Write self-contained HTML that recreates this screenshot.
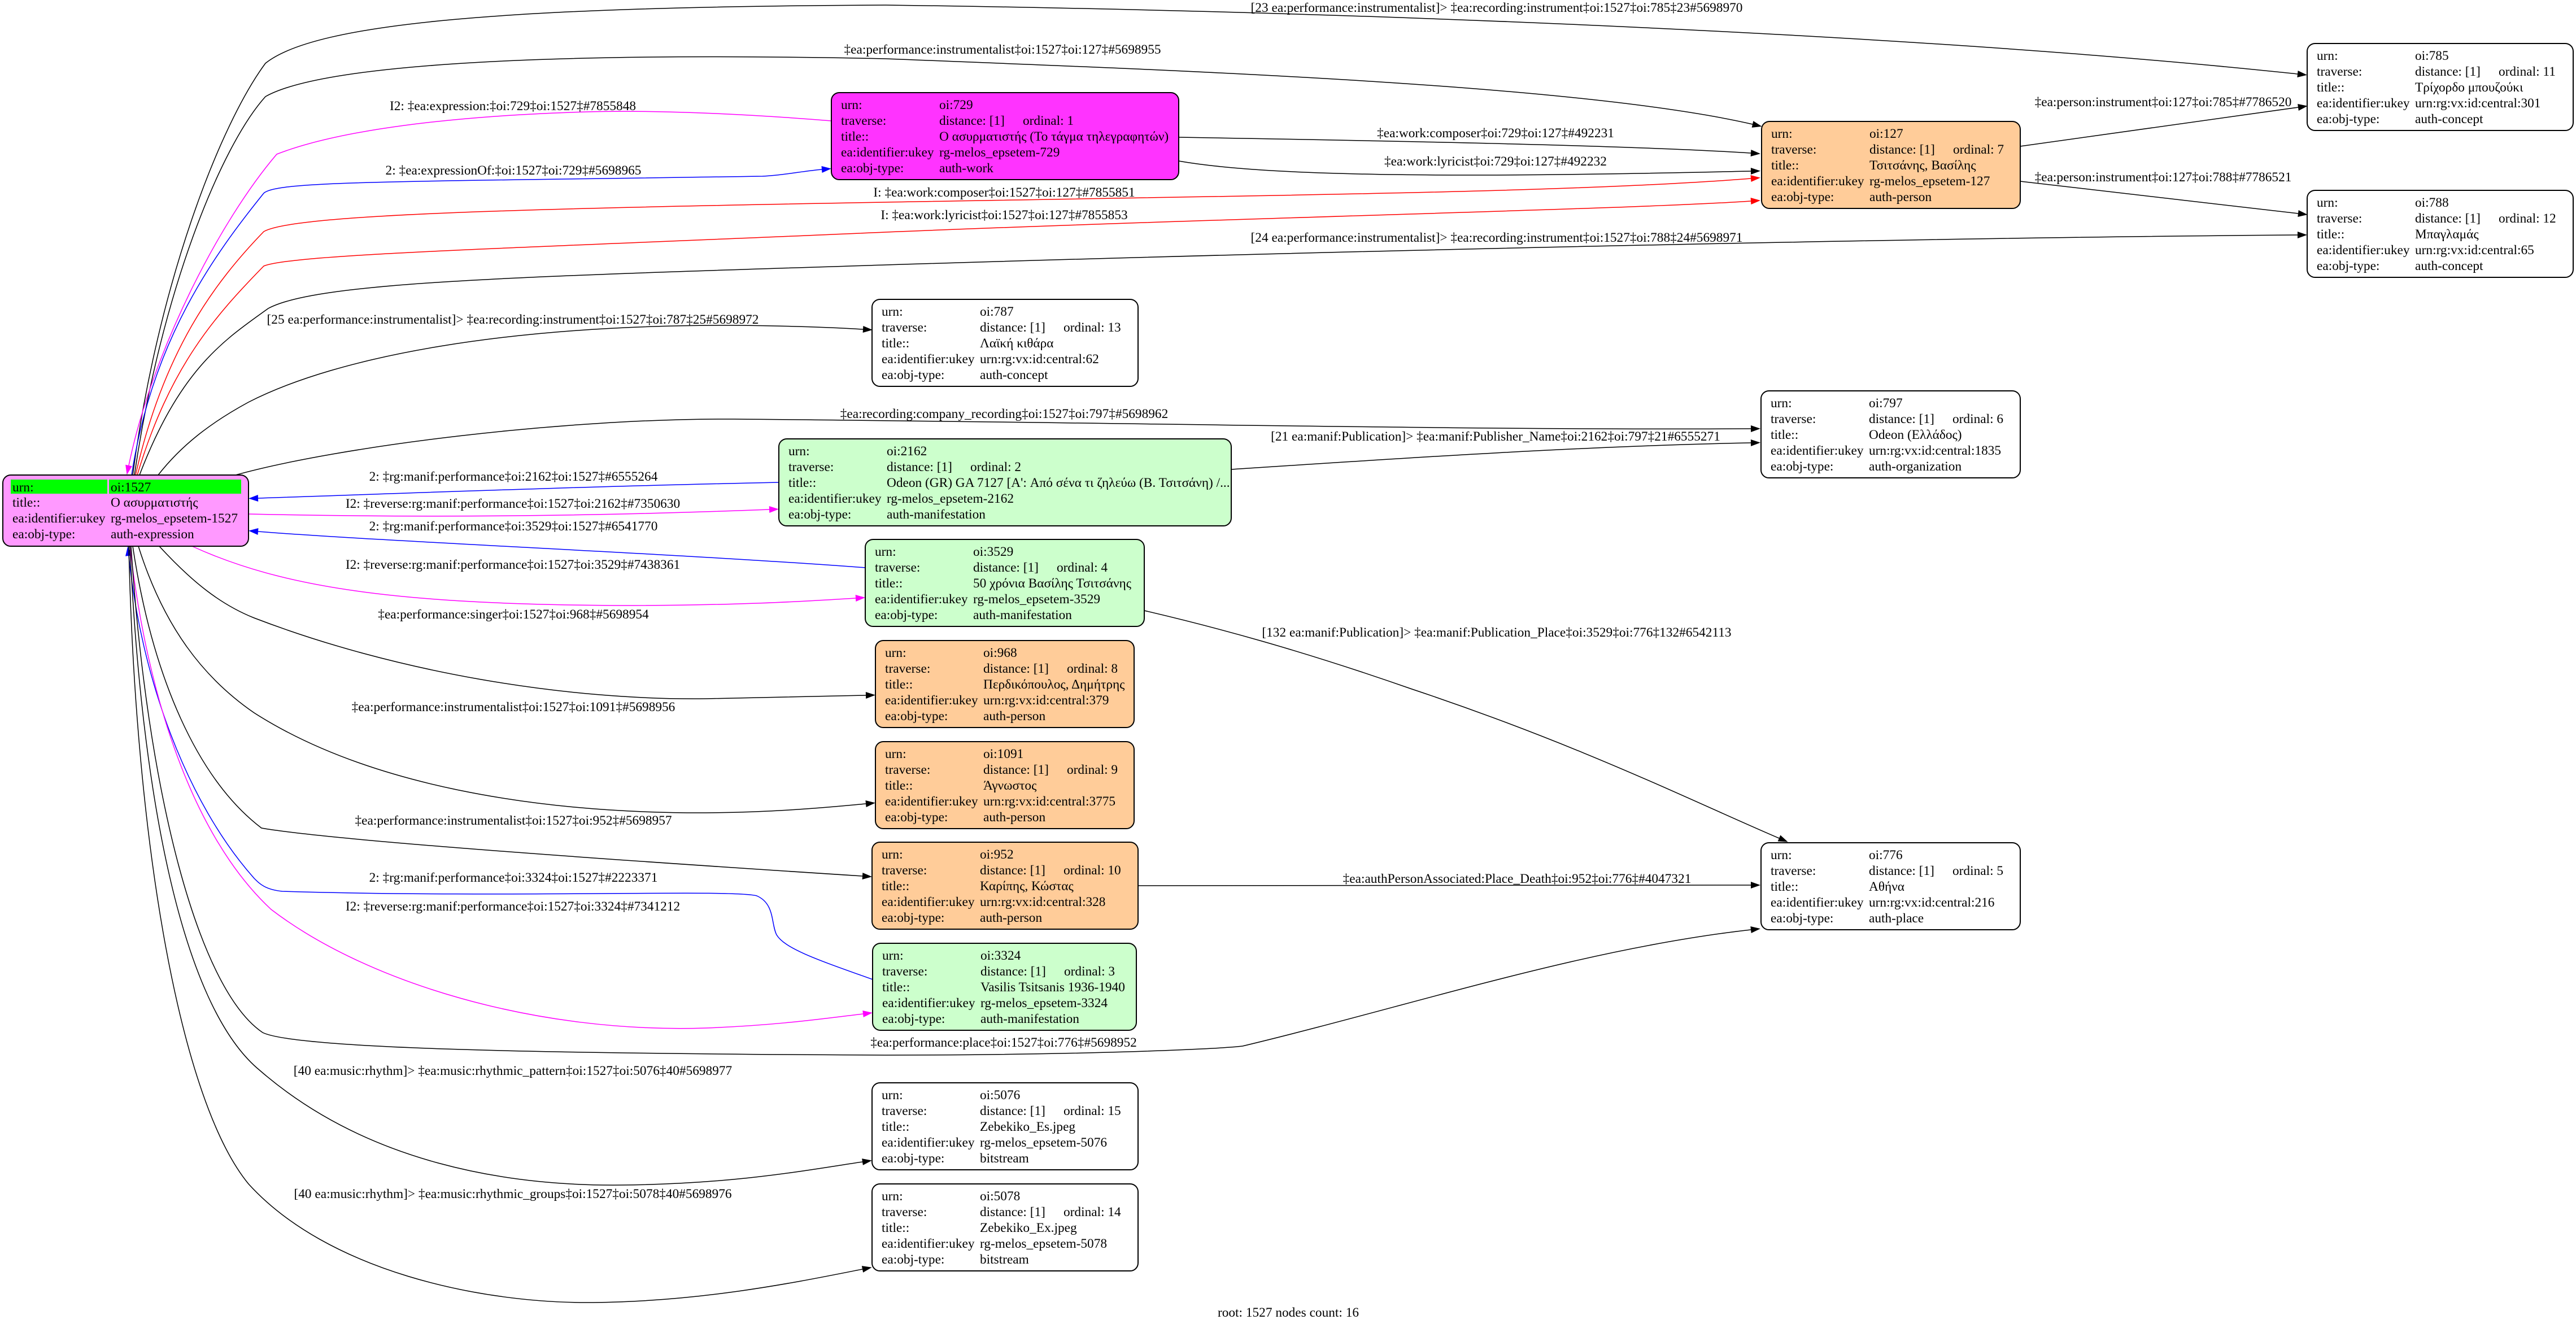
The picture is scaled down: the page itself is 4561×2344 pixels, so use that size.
<!DOCTYPE html>
<html><head><meta charset="utf-8"><style>
html,body{margin:0;padding:0;background:#fff;}
svg{display:block;}
text{font-family:"Liberation Serif","DejaVu Serif",serif;font-size:23.33px;fill:#000;}
.l{text-anchor:middle;}
</style></head><body>
<svg width="4561" height="2344" viewBox="0 0 4561 2344" xmlns="http://www.w3.org/2000/svg">
<defs>
<marker id="ak" markerUnits="userSpaceOnUse" markerWidth="18" markerHeight="12" refX="0" refY="6" orient="auto" overflow="visible"><path d="M0,0 L17,6 L0,12 z" fill="#000"/></marker>
<marker id="ab" markerUnits="userSpaceOnUse" markerWidth="18" markerHeight="12" refX="0" refY="6" orient="auto" overflow="visible"><path d="M0,0 L17,6 L0,12 z" fill="#0000ff"/></marker>
<marker id="ar" markerUnits="userSpaceOnUse" markerWidth="18" markerHeight="12" refX="0" refY="6" orient="auto" overflow="visible"><path d="M0,0 L17,6 L0,12 z" fill="#ff0000"/></marker>
<marker id="am" markerUnits="userSpaceOnUse" markerWidth="18" markerHeight="12" refX="0" refY="6" orient="auto" overflow="visible"><path d="M0,0 L17,6 L0,12 z" fill="#ff00ff"/></marker>
</defs>
<rect width="4561" height="2344" fill="#fff"/>

<!-- EDGES -->
<g fill="none" stroke-width="1.5">
<path stroke="#000" marker-end="url(#ak)" d="M235 841 C280 500 390 220 470 112 C560 40 900 12 1568 9 C2400 20 3400 60 4068 131"/>
<path stroke="#000" marker-end="url(#ak)" d="M238 841 C285 520 390 260 470 171 C560 120 900 90 1568 104 C2100 125 2800 150 3103 220"/>
<path stroke="#ff00ff" marker-end="url(#am)" d="M1472 214 C1300 200 1150 195 1040 198 C800 205 600 230 490 273 C390 390 270 620 228 824"/>
<path stroke="#0000ff" marker-end="url(#ab)" d="M233 841 C270 600 380 450 467 342 C490 320 700 322 1350 312 C1390 310 1420 303 1455 300"/>
<path stroke="#ff0000" marker-end="url(#ar)" d="M240 841 C290 620 380 500 467 410 C520 380 900 370 1568 358 C2300 345 2800 340 3100 316"/>
<path stroke="#ff0000" marker-end="url(#ar)" d="M243 841 C300 650 380 560 467 471 C520 450 900 440 1568 411 C2200 385 2900 370 3100 356"/>
<path stroke="#000" marker-end="url(#ak)" d="M247 841 C320 650 400 600 475 546 C560 500 900 490 1568 469 C2500 440 3500 420 4068 416"/>
<path stroke="#000" marker-end="url(#ak)" d="M280 841 C320 790 370 750 440 712 C600 630 900 575 1300 576 C1400 577 1480 580 1528 583"/>
<path stroke="#000" marker-end="url(#ak)" d="M417 841 C600 790 1000 740 1300 742 C2000 748 2600 762 3100 759"/>
<path stroke="#0000ff" marker-end="url(#ab)" d="M1379 854 C1000 862 700 874 457 882"/>
<path stroke="#ff00ff" marker-end="url(#am)" d="M440 910 C800 918 1100 912 1362 902"/>
<path stroke="#0000ff" marker-end="url(#ab)" d="M1532 1005 C1200 980 700 960 457 941"/>
<path stroke="#ff00ff" marker-end="url(#am)" d="M340 967 C500 1040 700 1070 1100 1072 C1300 1072 1420 1065 1515 1059"/>
<path stroke="#000" marker-end="url(#ak)" d="M282 967 C340 1030 390 1070 450 1094 C700 1190 1000 1240 1250 1237 C1380 1235 1460 1233 1533 1231"/>
<path stroke="#000" marker-end="url(#ak)" d="M245 967 C290 1110 360 1200 450 1262 C650 1390 950 1440 1250 1439 C1370 1438 1460 1430 1533 1423"/>
<path stroke="#000" marker-end="url(#ak)" d="M235 967 C270 1200 350 1380 463 1466 C600 1490 1200 1530 1527 1551"/>
<path stroke="#0000ff" marker-end="url(#ab)" d="M1545 1734 C1450 1700 1390 1680 1375 1655 C1365 1635 1372 1600 1340 1586 C1300 1574 900 1590 500 1578 C470 1575 460 1565 450 1555 C330 1420 250 1200 228 984"/>
<path stroke="#ff00ff" marker-end="url(#am)" d="M230 967 C260 1230 340 1480 480 1610 C650 1740 950 1830 1250 1820 C1380 1815 1460 1803 1528 1795"/>
<path stroke="#000" marker-end="url(#ak)" d="M232 967 C260 1400 350 1750 465 1828 C520 1855 900 1865 1568 1868 C1900 1868 2150 1858 2200 1852 C2500 1780 2800 1680 3100 1646"/>
<path stroke="#000" marker-end="url(#ak)" d="M230 967 C250 1400 320 1780 460 1895 C650 2060 900 2100 1100 2098 C1300 2096 1420 2073 1527 2057"/>
<path stroke="#000" marker-end="url(#ak)" d="M228 967 C240 1500 320 1950 440 2096 C580 2250 850 2308 1050 2306 C1250 2304 1420 2268 1527 2247"/>
<path stroke="#000" marker-end="url(#ak)" d="M2087 243 C2500 250 2900 258 3100 271"/>
<path stroke="#000" marker-end="url(#ak)" d="M2087 285 C2200 305 2400 310 2600 310 C2800 310 3000 305 3100 303"/>
<path stroke="#000" marker-end="url(#ak)" d="M3577 259 L4069 190"/>
<path stroke="#000" marker-end="url(#ak)" d="M3577 321 L4069 378"/>
<path stroke="#000" marker-end="url(#ak)" d="M2180 831 C2500 810 2800 790 3100 784"/>
<path stroke="#000" marker-end="url(#ak)" d="M2026 1081 C2150 1110 2300 1150 2500 1220 C2800 1320 3000 1420 3150 1484"/>
<path stroke="#000" marker-end="url(#ak)" d="M2015 1568 L3100 1567"/>
</g>

<!-- EDGE LABELS -->
<text class="l" x="2650" y="21">[23 ea:performance:instrumentalist]&gt; ‡ea:recording:instrument‡oi:1527‡oi:785‡23#5698970</text>
<text class="l" x="1775" y="95">‡ea:performance:instrumentalist‡oi:1527‡oi:127‡#5698955</text>
<text class="l" x="908" y="195">I2: ‡ea:expression:‡oi:729‡oi:1527‡#7855848</text>
<text class="l" x="909" y="309">2: ‡ea:expressionOf:‡oi:1527‡oi:729‡#5698965</text>
<text class="l" x="1778" y="348">I: ‡ea:work:composer‡oi:1527‡oi:127‡#7855851</text>
<text class="l" x="1778" y="388">I: ‡ea:work:lyricist‡oi:1527‡oi:127‡#7855853</text>
<text class="l" x="2650" y="428">[24 ea:performance:instrumentalist]&gt; ‡ea:recording:instrument‡oi:1527‡oi:788‡24#5698971</text>
<text class="l" x="908" y="573">[25 ea:performance:instrumentalist]&gt; ‡ea:recording:instrument‡oi:1527‡oi:787‡25#5698972</text>
<text class="l" x="1778" y="740">‡ea:recording:company_recording‡oi:1527‡oi:797‡#5698962</text>
<text class="l" x="909" y="851">2: ‡rg:manif:performance‡oi:2162‡oi:1527‡#6555264</text>
<text class="l" x="908" y="899">I2: ‡reverse:rg:manif:performance‡oi:1527‡oi:2162‡#7350630</text>
<text class="l" x="909" y="939">2: ‡rg:manif:performance‡oi:3529‡oi:1527‡#6541770</text>
<text class="l" x="908" y="1007">I2: ‡reverse:rg:manif:performance‡oi:1527‡oi:3529‡#7438361</text>
<text class="l" x="909" y="1095">‡ea:performance:singer‡oi:1527‡oi:968‡#5698954</text>
<text class="l" x="909" y="1259">‡ea:performance:instrumentalist‡oi:1527‡oi:1091‡#5698956</text>
<text class="l" x="909" y="1460">‡ea:performance:instrumentalist‡oi:1527‡oi:952‡#5698957</text>
<text class="l" x="909" y="1561">2: ‡rg:manif:performance‡oi:3324‡oi:1527‡#2223371</text>
<text class="l" x="908" y="1612">I2: ‡reverse:rg:manif:performance‡oi:1527‡oi:3324‡#7341212</text>
<text class="l" x="1777" y="1853">‡ea:performance:place‡oi:1527‡oi:776‡#5698952</text>
<text class="l" x="908" y="1903">[40 ea:music:rhythm]&gt; ‡ea:music:rhythmic_pattern‡oi:1527‡oi:5076‡40#5698977</text>
<text class="l" x="908" y="2121">[40 ea:music:rhythm]&gt; ‡ea:music:rhythmic_groups‡oi:1527‡oi:5078‡40#5698976</text>
<text class="l" x="2648" y="243">‡ea:work:composer‡oi:729‡oi:127‡#492231</text>
<text class="l" x="2648" y="293">‡ea:work:lyricist‡oi:729‡oi:127‡#492232</text>
<text class="l" x="3830" y="188">‡ea:person:instrument‡oi:127‡oi:785‡#7786520</text>
<text class="l" x="3830" y="321">‡ea:person:instrument‡oi:127‡oi:788‡#7786521</text>
<text class="l" x="2648" y="780">[21 ea:manif:Publication]&gt; ‡ea:manif:Publisher_Name‡oi:2162‡oi:797‡21#6555271</text>
<text class="l" x="2650" y="1127">[132 ea:manif:Publication]&gt; ‡ea:manif:Publication_Place‡oi:3529‡oi:776‡132#6542113</text>
<text class="l" x="2686" y="1563">‡ea:authPersonAssociated:Place_Death‡oi:952‡oi:776‡#4047321</text>

<!-- ROOT NODE -->
<rect x="5" y="841" width="435" height="126" rx="14" fill="#ff99ff" stroke="#000" stroke-width="2"/>
<rect x="19" y="849" width="171" height="25" fill="#00ff00"/>
<rect x="193" y="849" width="234" height="25" fill="#00ff00"/>
<text x="22" y="870">urn:</text><text x="196" y="870">oi:1527</text>
<text x="22" y="897">title::</text><text x="196" y="897">Ο ασυρματιστής</text>
<text x="22" y="925">ea:identifier:ukey</text><text x="196" y="925">rg-melos_epsetem-1527</text>
<text x="22" y="953">ea:obj-type:</text><text x="196" y="953">auth-expression</text>

<!-- 729 -->
<rect x="1472" y="164" width="615" height="154" rx="14" fill="#ff33ff" stroke="#000" stroke-width="2"/>
<text x="1489" y="193">urn:</text><text x="1663" y="193">oi:729</text>
<text x="1489" y="221">traverse:</text><text x="1663" y="221">distance: [1]</text><text x="1811" y="221">ordinal: 1</text>
<text x="1489" y="249">title::</text><text x="1663" y="249">Ο ασυρματιστής (Το τάγμα τηλεγραφητών)</text>
<text x="1489" y="277">ea:identifier:ukey</text><text x="1663" y="277">rg-melos_epsetem-729</text>
<text x="1489" y="305">ea:obj-type:</text><text x="1663" y="305">auth-work</text>

<!-- 127 -->
<rect x="3119" y="215" width="458" height="154" rx="14" fill="#ffcc99" stroke="#000" stroke-width="2"/>
<text x="3136" y="244">urn:</text><text x="3310" y="244">oi:127</text>
<text x="3136" y="272">traverse:</text><text x="3310" y="272">distance: [1]</text><text x="3458" y="272">ordinal: 7</text>
<text x="3136" y="300">title::</text><text x="3310" y="300">Τσιτσάνης, Βασίλης</text>
<text x="3136" y="328">ea:identifier:ukey</text><text x="3310" y="328">rg-melos_epsetem-127</text>
<text x="3136" y="356">ea:obj-type:</text><text x="3310" y="356">auth-person</text>

<!-- 785 -->
<rect x="4085" y="77" width="471" height="154" rx="14" fill="#fff" stroke="#000" stroke-width="2"/>
<text x="4102" y="106">urn:</text><text x="4276" y="106">oi:785</text>
<text x="4102" y="134">traverse:</text><text x="4276" y="134">distance: [1]</text><text x="4424" y="134">ordinal: 11</text>
<text x="4102" y="162">title::</text><text x="4276" y="162">Τρίχορδο μπουζούκι</text>
<text x="4102" y="190">ea:identifier:ukey</text><text x="4276" y="190">urn:rg:vx:id:central:301</text>
<text x="4102" y="218">ea:obj-type:</text><text x="4276" y="218">auth-concept</text>

<!-- 788 -->
<rect x="4085" y="337" width="471" height="154" rx="14" fill="#fff" stroke="#000" stroke-width="2"/>
<text x="4102" y="366">urn:</text><text x="4276" y="366">oi:788</text>
<text x="4102" y="394">traverse:</text><text x="4276" y="394">distance: [1]</text><text x="4424" y="394">ordinal: 12</text>
<text x="4102" y="422">title::</text><text x="4276" y="422">Μπαγλαμάς</text>
<text x="4102" y="450">ea:identifier:ukey</text><text x="4276" y="450">urn:rg:vx:id:central:65</text>
<text x="4102" y="478">ea:obj-type:</text><text x="4276" y="478">auth-concept</text>

<!-- 787 -->
<rect x="1544" y="530" width="471" height="154" rx="14" fill="#fff" stroke="#000" stroke-width="2"/>
<text x="1561" y="559">urn:</text><text x="1735" y="559">oi:787</text>
<text x="1561" y="587">traverse:</text><text x="1735" y="587">distance: [1]</text><text x="1883" y="587">ordinal: 13</text>
<text x="1561" y="615">title::</text><text x="1735" y="615">Λαϊκή κιθάρα</text>
<text x="1561" y="643">ea:identifier:ukey</text><text x="1735" y="643">urn:rg:vx:id:central:62</text>
<text x="1561" y="671">ea:obj-type:</text><text x="1735" y="671">auth-concept</text>

<!-- 797 -->
<rect x="3118" y="692" width="459" height="154" rx="14" fill="#fff" stroke="#000" stroke-width="2"/>
<text x="3135" y="721">urn:</text><text x="3309" y="721">oi:797</text>
<text x="3135" y="749">traverse:</text><text x="3309" y="749">distance: [1]</text><text x="3457" y="749">ordinal: 6</text>
<text x="3135" y="777">title::</text><text x="3309" y="777">Odeon (Ελλάδος)</text>
<text x="3135" y="805">ea:identifier:ukey</text><text x="3309" y="805">urn:rg:vx:id:central:1835</text>
<text x="3135" y="833">ea:obj-type:</text><text x="3309" y="833">auth-organization</text>

<!-- 2162 -->
<rect x="1379" y="777" width="801" height="154" rx="14" fill="#ccffcc" stroke="#000" stroke-width="2"/>
<text x="1396" y="806">urn:</text><text x="1570" y="806">oi:2162</text>
<text x="1396" y="834">traverse:</text><text x="1570" y="834">distance: [1]</text><text x="1718" y="834">ordinal: 2</text>
<text x="1396" y="862">title::</text><text x="1570" y="862">Odeon (GR) GA 7127 [A': Από σένα τι ζηλεύω (Β. Τσιτσάνη) /...</text>
<text x="1396" y="890">ea:identifier:ukey</text><text x="1570" y="890">rg-melos_epsetem-2162</text>
<text x="1396" y="918">ea:obj-type:</text><text x="1570" y="918">auth-manifestation</text>

<!-- 3529 -->
<rect x="1532" y="955" width="494" height="154" rx="14" fill="#ccffcc" stroke="#000" stroke-width="2"/>
<text x="1549" y="984">urn:</text><text x="1723" y="984">oi:3529</text>
<text x="1549" y="1012">traverse:</text><text x="1723" y="1012">distance: [1]</text><text x="1871" y="1012">ordinal: 4</text>
<text x="1549" y="1040">title::</text><text x="1723" y="1040">50 χρόνια Βασίλης Τσιτσάνης</text>
<text x="1549" y="1068">ea:identifier:ukey</text><text x="1723" y="1068">rg-melos_epsetem-3529</text>
<text x="1549" y="1096">ea:obj-type:</text><text x="1723" y="1096">auth-manifestation</text>

<!-- 968 -->
<rect x="1550" y="1134" width="458" height="154" rx="14" fill="#ffcc99" stroke="#000" stroke-width="2"/>
<text x="1567" y="1163">urn:</text><text x="1741" y="1163">oi:968</text>
<text x="1567" y="1191">traverse:</text><text x="1741" y="1191">distance: [1]</text><text x="1889" y="1191">ordinal: 8</text>
<text x="1567" y="1219">title::</text><text x="1741" y="1219">Περδικόπουλος, Δημήτρης</text>
<text x="1567" y="1247">ea:identifier:ukey</text><text x="1741" y="1247">urn:rg:vx:id:central:379</text>
<text x="1567" y="1275">ea:obj-type:</text><text x="1741" y="1275">auth-person</text>

<!-- 1091 -->
<rect x="1550" y="1313" width="458" height="154" rx="14" fill="#ffcc99" stroke="#000" stroke-width="2"/>
<text x="1567" y="1342">urn:</text><text x="1741" y="1342">oi:1091</text>
<text x="1567" y="1370">traverse:</text><text x="1741" y="1370">distance: [1]</text><text x="1889" y="1370">ordinal: 9</text>
<text x="1567" y="1398">title::</text><text x="1741" y="1398">Άγνωστος</text>
<text x="1567" y="1426">ea:identifier:ukey</text><text x="1741" y="1426">urn:rg:vx:id:central:3775</text>
<text x="1567" y="1454">ea:obj-type:</text><text x="1741" y="1454">auth-person</text>

<!-- 952 -->
<rect x="1544" y="1491" width="471" height="154" rx="14" fill="#ffcc99" stroke="#000" stroke-width="2"/>
<text x="1561" y="1520">urn:</text><text x="1735" y="1520">oi:952</text>
<text x="1561" y="1548">traverse:</text><text x="1735" y="1548">distance: [1]</text><text x="1883" y="1548">ordinal: 10</text>
<text x="1561" y="1576">title::</text><text x="1735" y="1576">Καρίπης, Κώστας</text>
<text x="1561" y="1604">ea:identifier:ukey</text><text x="1735" y="1604">urn:rg:vx:id:central:328</text>
<text x="1561" y="1632">ea:obj-type:</text><text x="1735" y="1632">auth-person</text>

<!-- 3324 -->
<rect x="1545" y="1670" width="467" height="154" rx="14" fill="#ccffcc" stroke="#000" stroke-width="2"/>
<text x="1562" y="1699">urn:</text><text x="1736" y="1699">oi:3324</text>
<text x="1562" y="1727">traverse:</text><text x="1736" y="1727">distance: [1]</text><text x="1884" y="1727">ordinal: 3</text>
<text x="1562" y="1755">title::</text><text x="1736" y="1755">Vasilis Tsitsanis 1936-1940</text>
<text x="1562" y="1783">ea:identifier:ukey</text><text x="1736" y="1783">rg-melos_epsetem-3324</text>
<text x="1562" y="1811">ea:obj-type:</text><text x="1736" y="1811">auth-manifestation</text>

<!-- 776 -->
<rect x="3118" y="1492" width="459" height="154" rx="14" fill="#fff" stroke="#000" stroke-width="2"/>
<text x="3135" y="1521">urn:</text><text x="3309" y="1521">oi:776</text>
<text x="3135" y="1549">traverse:</text><text x="3309" y="1549">distance: [1]</text><text x="3457" y="1549">ordinal: 5</text>
<text x="3135" y="1577">title::</text><text x="3309" y="1577">Αθήνα</text>
<text x="3135" y="1605">ea:identifier:ukey</text><text x="3309" y="1605">urn:rg:vx:id:central:216</text>
<text x="3135" y="1633">ea:obj-type:</text><text x="3309" y="1633">auth-place</text>

<!-- 5076 -->
<rect x="1544" y="1917" width="471" height="154" rx="14" fill="#fff" stroke="#000" stroke-width="2"/>
<text x="1561" y="1946">urn:</text><text x="1735" y="1946">oi:5076</text>
<text x="1561" y="1974">traverse:</text><text x="1735" y="1974">distance: [1]</text><text x="1883" y="1974">ordinal: 15</text>
<text x="1561" y="2002">title::</text><text x="1735" y="2002">Zebekiko_Es.jpeg</text>
<text x="1561" y="2030">ea:identifier:ukey</text><text x="1735" y="2030">rg-melos_epsetem-5076</text>
<text x="1561" y="2058">ea:obj-type:</text><text x="1735" y="2058">bitstream</text>

<!-- 5078 -->
<rect x="1544" y="2096" width="471" height="154" rx="14" fill="#fff" stroke="#000" stroke-width="2"/>
<text x="1561" y="2125">urn:</text><text x="1735" y="2125">oi:5078</text>
<text x="1561" y="2153">traverse:</text><text x="1735" y="2153">distance: [1]</text><text x="1883" y="2153">ordinal: 14</text>
<text x="1561" y="2181">title::</text><text x="1735" y="2181">Zebekiko_Ex.jpeg</text>
<text x="1561" y="2209">ea:identifier:ukey</text><text x="1735" y="2209">rg-melos_epsetem-5078</text>
<text x="1561" y="2237">ea:obj-type:</text><text x="1735" y="2237">bitstream</text>

<!-- footer -->
<text class="l" x="2281" y="2331">root: 1527 nodes count: 16</text>
</svg>
</body></html>
